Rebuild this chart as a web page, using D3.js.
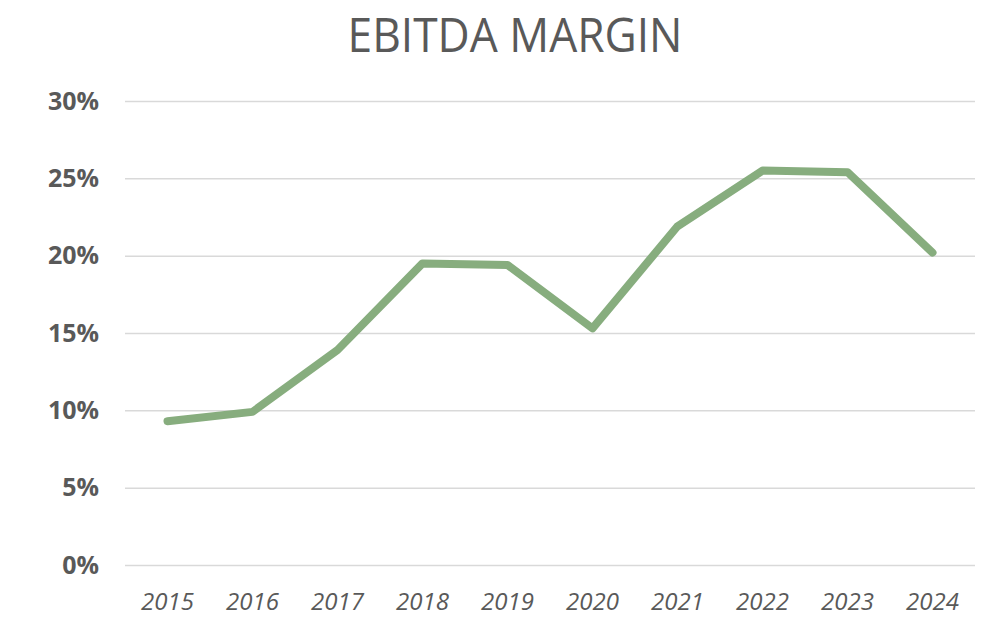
<!DOCTYPE html>
<html>
<head>
<meta charset="utf-8">
<script src="https://cdn.jsdelivr.net/npm/d3@7"></script>
<style>
  body { margin: 0; background: #fff; }
  svg { display: block; font-family: "Open Sans", sans-serif; }
</style>
</head>
<body>
<svg id="chart"></svg>
<script>
const years = ['2015', '2016', '2017', '2018', '2019', '2020', '2021', '2022', '2023', '2024'];
const margins = [9.3, 9.9, 13.9, 19.5, 19.4, 15.3, 21.9, 25.5, 25.4, 20.2];
const yTicks = [0, 5, 10, 15, 20, 25, 30];
const title = 'EBITDA MARGIN';

const width = 981;
const height = 621;
const margin = { top: 101, right: 6, bottom: 56, left: 125 };

const svg = d3.select('#chart')
    .attr('width', width)
    .attr('height', height);

const xScale = d3.scaleBand()
    .domain(years)
    .range([margin.left, width - margin.right]);

const yScale = d3.scaleLinear()
    .domain([0, 30])
    .range([height - margin.bottom, margin.top]);

// title
svg.append('text')
    .attr('x', 515)
    .attr('y', 52)
    .attr('text-anchor', 'middle')
    .attr('fill', '#595959')
    .style('font-size', '47px')
    .attr('textLength', 335)
    .attr('lengthAdjust', 'spacingAndGlyphs')
    .text(title);

// y axis + gridlines
const yAxis = svg.append('g')
    .attr('transform', `translate(${margin.left}, 0)`)
    .call(d3.axisLeft(yScale)
        .tickValues(yTicks)
        .tickSize(-(width - margin.left - margin.right))
        .tickPadding(26)
        .tickFormat(d => d + '%'));

yAxis.select('.domain').remove();
yAxis.selectAll('.tick line')
    .attr('stroke', '#d9d9d9')
    .attr('stroke-width', 1.5);
yAxis.selectAll('.tick text')
    .attr('fill', '#595959')
    .style('font-size', '25px')
    .style('font-weight', 'bold')
    .style('font-family', '"Open Sans", sans-serif');

// x axis labels
const xAxis = svg.append('g')
    .attr('transform', `translate(0, ${height - margin.bottom})`)
    .call(d3.axisBottom(xScale).tickSize(0).tickPadding(28));

xAxis.select('.domain').remove();
xAxis.selectAll('.tick text')
    .attr('fill', '#595959')
    .style('font-size', '24px')
    .style('font-style', 'italic')
    .style('font-family', '"Open Sans", sans-serif');

// line
const line = d3.line()
    .x((d, i) => xScale(years[i]) + xScale.bandwidth() / 2)
    .y(d => yScale(d));

svg.append('path')
    .datum(margins)
    .attr('d', line)
    .attr('fill', 'none')
    .attr('stroke', '#87ad7e')
    .attr('stroke-width', 8)
    .attr('stroke-linecap', 'round')
    .attr('stroke-linejoin', 'round');
</script>
</body>
</html>
